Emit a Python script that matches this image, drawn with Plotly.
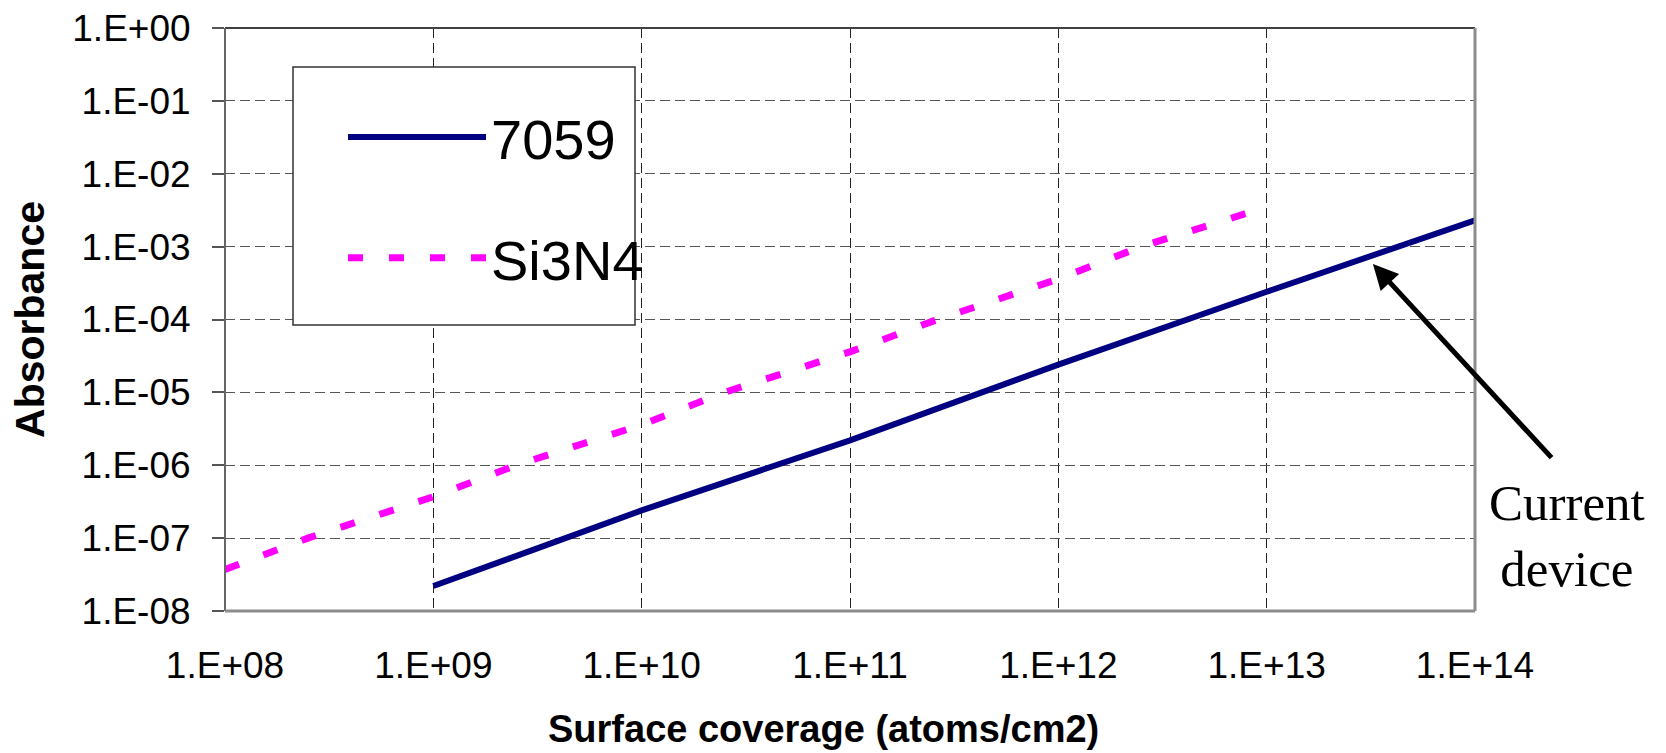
import plotly.graph_objects as go

# ---- data ----
x_7059 = [1e9, 1e10, 1e11, 3.2e11, 1e12, 1e13, 1e14]
y_7059 = [2.2e-8, 2.4e-7, 2.2e-6, 7.5e-6, 2.4e-5, 2.4e-4, 2.3e-3]

x_si3n4 = [1e8, 2.5e8, 1e9, 2.5e9, 1e10, 2.5e10, 1e11, 2.5e11, 1e12, 2.5e12, 1e13]
y_si3n4 = [3.7e-8, 1.0e-7, 3.7e-7, 1.0e-6, 3.6e-6, 1.0e-5, 3.6e-5, 9.5e-5, 3.6e-4, 1.0e-3, 3.5e-3]

x_tickvals = [1e8, 1e9, 1e10, 1e11, 1e12, 1e13, 1e14]
x_ticktext = ["1.E+08", "1.E+09", "1.E+10", "1.E+11", "1.E+12", "1.E+13", "1.E+14"]
y_tickvals = [1e0, 1e-1, 1e-2, 1e-3, 1e-4, 1e-5, 1e-6, 1e-7, 1e-8]
y_ticktext = ["1.E+00", "1.E-01", "1.E-02", "1.E-03", "1.E-04", "1.E-05", "1.E-06", "1.E-07", "1.E-08"]

SANS = "Liberation Sans, Arial, sans-serif"
SERIF = "Liberation Serif, Times New Roman, serif"

fig = go.Figure()
fig.add_trace(go.Scatter(
    x=x_7059, y=y_7059, mode="lines", name="7059",
    line=dict(color="#000080", width=6), legendgroup="a", cliponaxis=True,
))
fig.add_trace(go.Scatter(
    x=x_si3n4, y=y_si3n4, mode="lines", name="Si3N4",
    line=dict(color="#FF00FF", width=7, dash="15px,26px"), legendgroup="b", cliponaxis=True,
))

W, H = 1666, 753
L, R, T, B = 225, 191, 28, 142
pw, ph = W - L - R, H - T - B

def px(xp):
    return (xp - L) / pw

def py(yp):
    return (H - B - yp) / ph

fig.update_layout(
    width=W, height=H,
    margin=dict(l=L, r=R, t=T, b=B, pad=0, autoexpand=False),
    paper_bgcolor="white", plot_bgcolor="white",
    font=dict(family=SANS, color="black"),
    showlegend=True,
    legend=dict(
        x=px(343), y=py(94), xanchor="left", yanchor="top",
        bgcolor="rgba(0,0,0,0)", borderwidth=0,
        font=dict(family=SANS, size=56, color="black"),
        itemwidth=138, tracegroupgap=45, traceorder="grouped",
    ),
    xaxis=dict(
        type="log", range=[8, 14], automargin=False,
        tickvals=x_tickvals, ticktext=x_ticktext,
        tickfont=dict(family=SANS, size=37, color="black"),
        ticks="", ticklabelstandoff=29,
        showgrid=True, gridcolor="#222222", gridwidth=1, griddash="10px,5px",
        showline=False, zeroline=False,
    ),
    yaxis=dict(
        type="log", range=[-8, 0], automargin=False,
        tickvals=y_tickvals, ticktext=y_ticktext,
        tickfont=dict(family=SANS, size=37, color="black"),
        ticks="outside", ticklen=12, tickwidth=1.5, tickcolor="#555555",
        ticklabelstandoff=14,
        showgrid=True, gridcolor="#555555", gridwidth=1, griddash="10px,5px",
        showline=False, zeroline=False,
        title=dict(text="<b>Absorbance</b>", font=dict(family=SANS, size=41, color="black"), standoff=14),
    ),
    shapes=[
        # legend box
        dict(type="rect", xref="paper", yref="paper",
             x0=px(293), x1=px(635), y0=py(325), y1=py(67),
             line=dict(color="#333333", width=1.5), fillcolor="white", layer="above"),
        # plot frame
        dict(type="line", xref="paper", yref="paper", x0=0, x1=1, y0=1, y1=1,
             line=dict(color="#404040", width=2), layer="above"),
        dict(type="line", xref="paper", yref="paper", x0=0, x1=0, y0=0, y1=1,
             line=dict(color="#666666", width=2), layer="above"),
        dict(type="line", xref="paper", yref="paper", x0=1, x1=1, y0=0, y1=1,
             line=dict(color="#8c8c8c", width=3), layer="above"),
        dict(type="line", xref="paper", yref="paper", x0=0, x1=1, y0=0, y1=0,
             line=dict(color="#8c8c8c", width=3), layer="above"),
    ],
    annotations=[
        dict(text="<b>Surface coverage (atoms/cm2)</b>", xref="paper", yref="paper",
             x=px(823), y=py(752), xanchor="center", yanchor="bottom", showarrow=False,
             font=dict(family=SANS, size=38, color="black")),
        dict(text="Current<br>device", xref="paper", yref="paper",
             x=px(1567), y=py(536), xanchor="center", yanchor="middle", showarrow=False,
             align="center", font=dict(family=SERIF, size=51, color="black")),
        dict(text="", xref="x", yref="y", x=13.51, y=-3.24,
             ax=180, ay=195, axref="pixel", ayref="pixel",
             showarrow=True, arrowhead=2, arrowsize=1, arrowwidth=5,
             arrowcolor="black", standoff=0),
    ],
)

fig.write_html(
    "out.html",
    config={"displayModeBar": False},
    post_script="document.body.style.margin='0';document.body.style.padding='0';",
)
